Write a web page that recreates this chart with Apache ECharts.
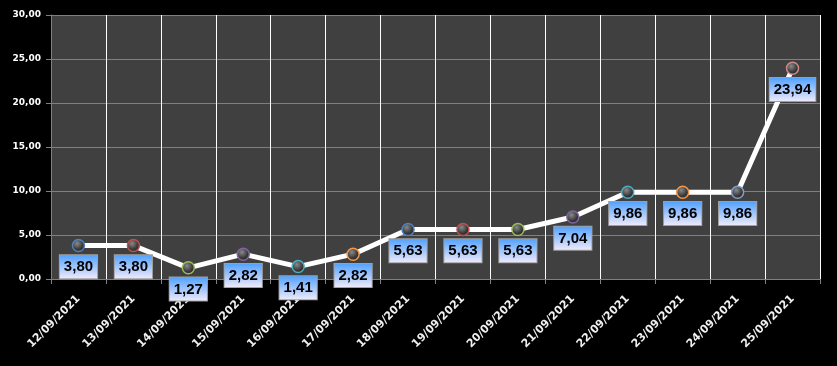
<!DOCTYPE html>
<html><head><meta charset="utf-8">
<script src="https://cdn.jsdelivr.net/npm/echarts@6/dist/echarts.min.js"></script>
<style>html,body{margin:0;padding:0;background:#000}#c{width:837px;height:366px}</style>
</head><body><div id="c"></div>
<script>
const categories = ["12/09/2021","13/09/2021","14/09/2021","15/09/2021","16/09/2021","17/09/2021","18/09/2021","19/09/2021","20/09/2021","21/09/2021","22/09/2021","23/09/2021","24/09/2021","25/09/2021"];
const values = [3.80,3.80,1.27,2.82,1.41,2.82,5.63,5.63,5.63,7.04,9.86,9.86,9.86,23.94];
const markerRims = ["#4F81BD","#C0504D","#9BBB59","#8064A2","#4BACC6","#F79646","#4F81BD","#C0504D","#9BBB59","#8064A2","#4BACC6","#F79646","#7F9FCA","#D08A88"];
const yTicks = [0,5,10,15,20,25,30];

const fmt = v => Number(v).toFixed(2).replace('.', ',');
const chart = echarts.init(document.getElementById('c'));
const sphere = {type:'radial',x:0.4,y:0.35,r:0.7,colorStops:[{offset:0,color:'#8a8a8a'},{offset:0.6,color:'#3a3a3a'},{offset:1,color:'#202020'}]};
chart.setOption({
  backgroundColor:'#000',
  animation:false,
  grid:{left:51,right:17,top:15,bottom:87,show:true,backgroundColor:'#404040',borderWidth:0},
  xAxis:{type:'category',data:categories,boundaryGap:true,
    axisLine:{show:true,lineStyle:{color:'#808080'}},
    axisTick:{show:true,length:5,lineStyle:{color:'#808080'}},
    splitLine:{show:true,lineStyle:{color:'#ffffff',width:1}},
    axisLabel:{rotate:45,color:'#f0f0f0',fontWeight:'bold',fontSize:11,fontFamily:'DejaVu Sans',margin:18,interval:0}},
  yAxis:{type:'value',min:yTicks[0],max:yTicks[yTicks.length-1],interval:5,
    axisLine:{show:true,lineStyle:{color:'#808080'}},
    axisTick:{show:true,length:5,lineStyle:{color:'#808080'}},
    splitLine:{show:true,lineStyle:{color:'#808080',width:1}},
    axisLabel:{color:'#fff',fontWeight:'bold',fontSize:9,fontFamily:'DejaVu Sans',margin:10,formatter:fmt}},
  series:[{type:'line',
    data:values.map((v,i)=>({value:v,itemStyle:{color:sphere,borderColor:markerRims[i],borderWidth:1.5}})),
    symbol:'circle',symbolSize:12,
    lineStyle:{color:'#fff',width:5},
    label:{show:true,position:'bottom',distance:3,formatter:p=>fmt(p.value),
      color:'#000',fontWeight:'bold',fontSize:15,fontFamily:'Liberation Sans',lineHeight:16,
      padding:[4,4,3,4],borderColor:'#a0a0a0',borderWidth:1,
      backgroundColor:{type:'linear',x:0,y:0,x2:0,y2:1,colorStops:[{offset:0,color:'#4d9fff'},{offset:1,color:'#f3ecfa'}]}},
    z:3}]
});
</script></body></html>
